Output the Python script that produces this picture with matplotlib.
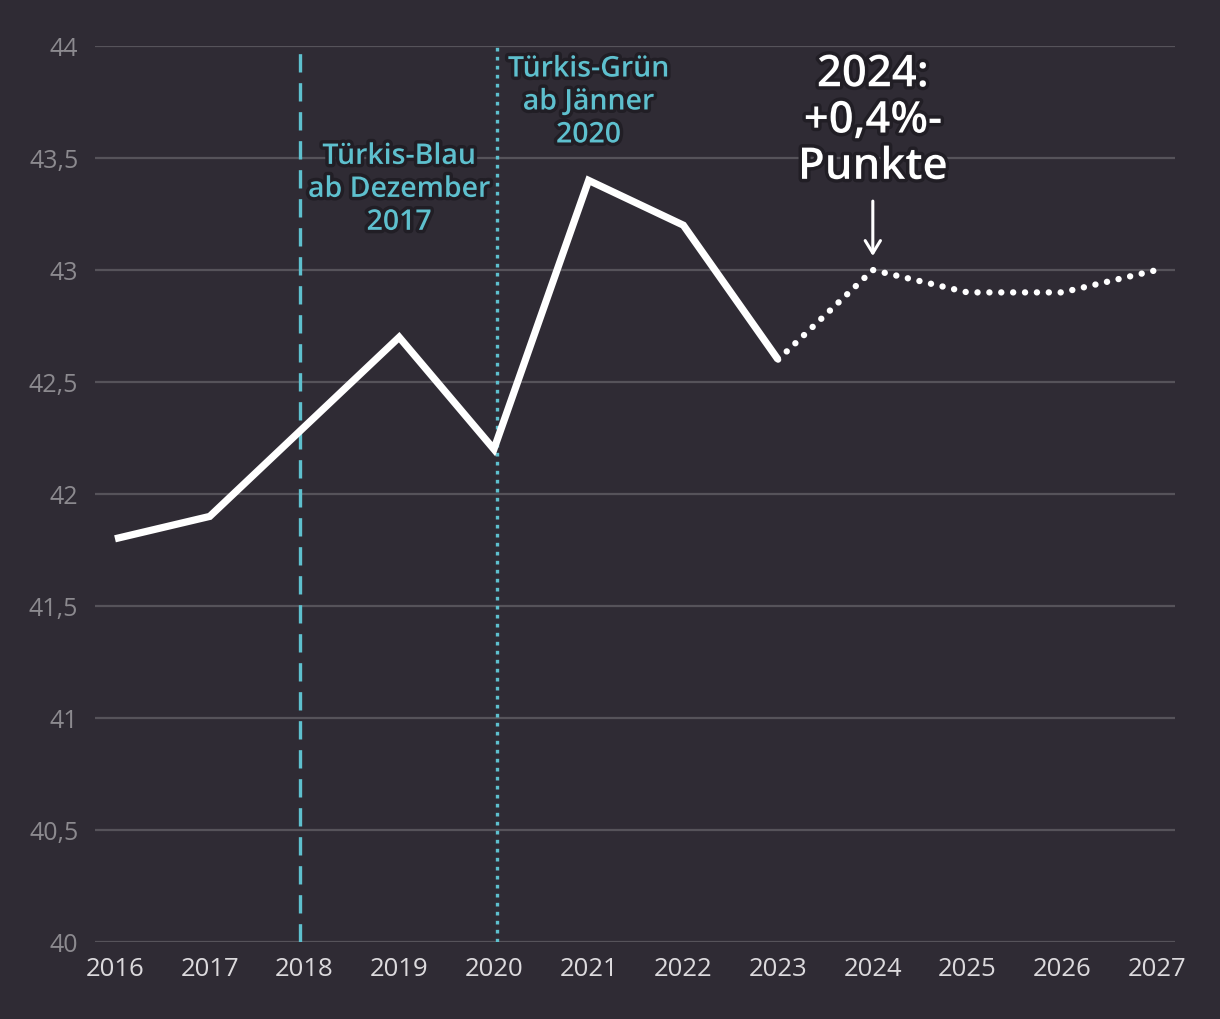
import matplotlib
matplotlib.use("Agg")
import matplotlib.pyplot as plt
import matplotlib.patheffects as pe

plt.rcParams['font.family'] = ['Open Sans', 'DejaVu Sans']

years = [2016, 2017, 2018, 2019, 2020, 2021, 2022, 2023, 2024, 2025, 2026, 2027]
values = [41.8, 41.9, 42.3, 42.7, 42.2, 43.4, 43.2, 42.6, 43.0, 42.9, 42.9, 43.0]
last_actual = 2023
yticks = [40, 40.5, 41, 41.5, 42, 42.5, 43, 43.5, 44]
ytick_labels = ["40", "40,5", "41", "41,5", "42", "42,5", "43", "43,5", "44"]
vline_dashed = 2017.95   # Dezember 2017
vline_dotted = 2020.03   # Jänner 2020
label_blau = "Türkis-Blau\nab Dezember\n2017"
label_gruen = "Türkis-Grün\nab Jänner\n2020"
label_2024 = "2024:\n+0,4%-\nPunkte"

BG = "#2f2b34"
TEAL = "#5ec0ce"
GRID = "#56535a"

fig = plt.figure(figsize=(12.2, 10.2), dpi=100, facecolor=BG)
ax = fig.add_axes([95/1220, 1-943/1020, (1175-95)/1220, (943-47)/1020])
ax.set_facecolor(BG)

ax.set_xlim(2016 - 20/94.73, 2027 + 18/94.73)
ax.set_ylim(40, 44)

for yv in yticks:
    ax.axhline(yv, color=GRID, lw=1.6, zorder=1)

ax.set_yticks(yticks)
ax.set_yticklabels(ytick_labels)
ax.set_xticks(years)
ax.set_xticklabels([str(y) for y in years])
ax.tick_params(axis='y', length=0, pad=12, labelsize=18, labelcolor="#8c8a8f")
ax.tick_params(axis='x', length=0, pad=10, labelsize=18.5, labelcolor="#dcdadd")
for s in ax.spines.values():
    s.set_visible(False)

# vertical lines
ax.axvline(vline_dashed, color=TEAL, lw=2.4, linestyle=(0, (5.5, 3.2)), zorder=2)
ax.axvline(vline_dotted, color=TEAL, lw=2.4, linestyle=(0, (1.1, 1.6)), zorder=2)

idx = years.index(last_actual)
ax.plot(years[:idx+1], values[:idx+1], color="white", lw=5.2,
        solid_joinstyle='miter', solid_capstyle='butt', zorder=3)
ax.plot(years[idx:], values[idx:], color="white", lw=4.6,
        linestyle=(0, (0.01, 1.85)), dash_capstyle='round', zorder=3)

stroke = [pe.withStroke(linewidth=5, foreground="#211e25")]
ax.text(2019.0, 43.36, label_blau, ha='center', va='center', color=TEAL,
        fontsize=20.5, fontweight=600, linespacing=1.18, path_effects=stroke, zorder=4)
ax.text(2021.0, 43.75, label_gruen, ha='center', va='center', color=TEAL,
        fontsize=20.5, fontweight=600, linespacing=1.18, path_effects=stroke, zorder=4)
ax.text(2024.0, 43.665, label_2024, ha='center', va='center', color="white",
        fontsize=31.5, fontweight=600, linespacing=1.1, path_effects=stroke, zorder=4)

ax.annotate("", xy=(2024.0, 43.05), xytext=(2024.0, 43.32),
            arrowprops=dict(arrowstyle="->,head_length=0.9,head_width=0.55",
                            color="white", lw=2.2), zorder=4)

fig.savefig("out.png", dpi=100, facecolor=BG)
